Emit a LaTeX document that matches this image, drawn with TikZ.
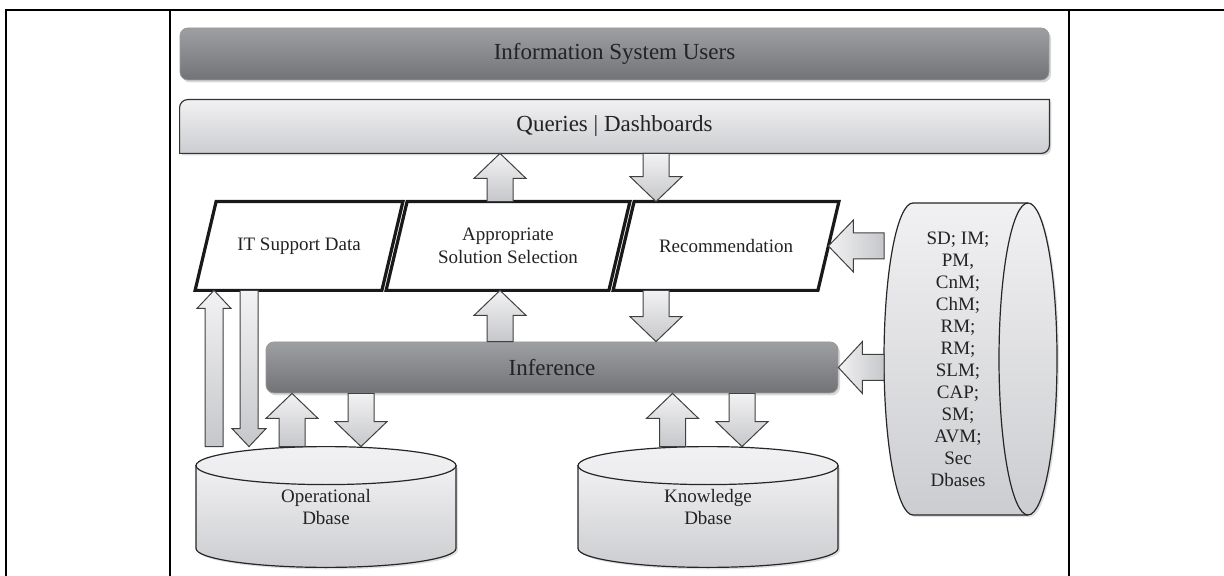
\documentclass[tikz,border=0pt]{standalone}
\usepackage{fontspec}
\setmainfont{Liberation Serif}
\usetikzlibrary{calc,shadows}

\definecolor{darktop}{RGB}{158,159,163}
\definecolor{darkbot}{RGB}{114,115,119}
\definecolor{lighttop}{RGB}{241,241,243}
\definecolor{lightbot}{RGB}{204,205,208}
\definecolor{arrtop}{RGB}{242,242,244}
\definecolor{arrbot}{RGB}{198,199,202}
\definecolor{textgray}{RGB}{35,35,35}

\pgfdeclarelayer{bg}
\pgfsetlayers{bg,main}

\newcommand{\bigtext}{\fontsize{11.5}{13.8}\selectfont}
\newcommand{\smalltext}{\fontsize{9.5}{11.25}\selectfont}

% block arrow: style, tail, tip, shaft half width, head half width, head length
\newcommand{\blockarrow}[6][barrow]{%
  \coordinate (bt) at (#2);
  \coordinate (bh) at (#3);
  \coordinate (bb) at ($(bh)!#6!(bt)$);
  \draw[#1] ($(bt)!#4!90:(bh)$) -- ($(bb)!#4!90:(bh)$) -- ($(bb)!#5!90:(bh)$) -- (bh)
    -- ($(bb)!#5!-90:(bh)$) -- ($(bb)!#4!-90:(bh)$) -- ($(bt)!#4!-90:(bh)$) -- cycle;
}
% slanted box round a node
\newcommand{\parashape}[1]{%
  \draw[para] ([xshift=-5.25pt]#1.south west) -- ([xshift=5.25pt]#1.north west)
    -- ([xshift=5.25pt]#1.north east) -- ([xshift=-5.25pt]#1.south east) -- cycle;
}
% upright database drum round a node
\newcommand{\dbshape}[1]{%
  \draw[cyl] ([shift={(-65pt,-9.5pt)}]#1.north) -- ([shift={(-65pt,9.5pt)}]#1.south)
    arc[start angle=180,end angle=360,x radius=65pt,y radius=9.5pt]
    -- ([shift={(65pt,-9.5pt)}]#1.north) -- cycle;
  \draw[cyltop] ([yshift=-9.5pt]#1.north) ellipse[x radius=65pt,y radius=9.5pt];
}

\begin{document}
\begin{tikzpicture}[x=0.5pt,y=-0.5pt,
  darkbox/.style={rounded corners=4pt, draw=black!40, top color=darktop, bottom color=darkbot,
    drop shadow={shadow xshift=1pt,shadow yshift=-1.2pt,opacity=0.3}, text=textgray, font=\bigtext},
  lightbox/.style={draw=black!80, line width=0.6pt, top color=lighttop, bottom color=lightbot,
    drop shadow={shadow xshift=1pt,shadow yshift=-1pt,opacity=0.3}},
  para/.style={draw=black!90, line width=1.6pt, fill=white},
  paratext/.style={minimum height=44pt, align=center, text=textgray, font=\smalltext},
  dbtext/.style={minimum width=130pt, minimum height=60pt, align=center, text=textgray, font=\smalltext},
  cyl/.style={draw=black!85, line width=0.6pt, top color=lighttop, bottom color=lightbot,
    drop shadow={shadow xshift=1pt,shadow yshift=-1pt,opacity=0.25}},
  cyltop/.style={draw=black!85, line width=0.6pt, top color=lighttop, bottom color=lighttop!85!lightbot},
  barrow/.style={draw=black!75, line width=0.5pt, top color=arrtop, bottom color=arrbot},
  harrow/.style={draw=black!75, line width=0.5pt, left color=arrtop, right color=arrbot}]
\useasboundingbox (0,0) rectangle (1224,576);

% Frame
\draw[line width=1.1pt] (6,576) -- (6,10) -- (1224,10);
\draw[line width=1pt] (170,10) -- (170,576);
\draw[line width=1pt] (1069,10) -- (1069,576);

% Top bars
\node[darkbox, minimum width=434.5pt, minimum height=26pt] (users) at (614.5,54) {Information System Users};
\node[minimum width=434.5pt, minimum height=26.5pt, text=textgray, font=\bigtext] (queries) at (614.5,126.5) {Queries | Dashboards};
\begin{pgfonlayer}{bg}
\draw[lightbox] (queries.south west) -- ([yshift=-4pt]queries.north west) arc[start angle=180,end angle=90,radius=4pt]
  -- (queries.north east) -- ([yshift=4pt]queries.south east) arc[start angle=0,end angle=-90,radius=4pt] -- cycle;
\end{pgfonlayer}

% Middle row
\node[paratext, minimum width=93pt] (p1) at (299,246) {IT Support Data};
\node[paratext, minimum width=111pt] (p2) at (508,246) {Appropriate\\Solution Selection};
\node[paratext, minimum width=102pt] (p3) at (726,246) {Recommendation};
\begin{pgfonlayer}{bg}
\parashape{p1}
\parashape{p2}
\parashape{p3}
\end{pgfonlayer}

% Inference
\node[darkbox, minimum width=286pt, minimum height=25.5pt] (inf) at (552,367.5) {Inference};

% Databases
\node[dbtext] (opdb) at (326,507) {Operational\\Dbase};
\node[dbtext] (kdb) at (708,507) {Knowledge\\Dbase};
\node[align=center, text=textgray, font=\fontsize{9.5}{11}\selectfont] (sd) at (958,359)
  {SD; IM;\\PM,\\CnM;\\ChM;\\RM;\\RM;\\SLM;\\CAP;\\SM;\\AVM;\\Sec\\Dbases};
\coordinate (sdw) at ([xshift=-37pt]sd.center);
\begin{pgfonlayer}{bg}
\dbshape{opdb}
\dbshape{kdb}
\draw[cyl] ([shift={(-22.5pt,78pt)}]sd.center) arc[start angle=90,end angle=270,x radius=14.5pt,y radius=78pt]
  -- ([shift={(35pt,-78pt)}]sd.center) arc[start angle=-90,end angle=90,x radius=14.5pt,y radius=78pt] -- cycle;
\draw[line width=0.6pt, black!85] ([shift={(35pt,78pt)}]sd.center) arc[start angle=90,end angle=270,x radius=14.5pt,y radius=78pt];
\end{pgfonlayer}

% Arrow columns
\coordinate (cA) at (500,0);
\coordinate (cB) at (656,0);
\coordinate (cC) at (214,0);
\coordinate (cD) at (249,0);
\coordinate (cE) at (292,0);
\coordinate (cF) at (361,0);
\coordinate (cG) at (672.5,0);
\coordinate (cH) at (742,0);

% Arrows
\blockarrow{cA |- p2.north}{cA |- queries.south}{6.5pt}{13pt}{12.5pt}
\blockarrow{cB |- queries.south}{cB |- p3.north}{6.5pt}{13pt}{12.5pt}
\blockarrow{cA |- inf.north}{cA |- p2.south}{6.5pt}{13pt}{12.5pt}
\blockarrow{cB |- p3.south}{cB |- inf.north}{6.5pt}{13pt}{12.5pt}
\blockarrow[harrow]{sdw |- p3.east}{p3.east}{6.5pt}{13pt}{12.5pt}
\blockarrow[harrow]{sdw |- inf.east}{inf.east}{6.5pt}{13pt}{12pt}
\blockarrow{cC |- opdb.north}{cC |- p1.south}{4.5pt}{8.5pt}{9pt}
\blockarrow{cD |- p1.south}{cD |- opdb.north}{4.5pt}{8.5pt}{9pt}
\blockarrow{cE |- opdb.north}{cE |- inf.south}{6.5pt}{13pt}{12.5pt}
\blockarrow{cF |- inf.south}{cF |- opdb.north}{6.5pt}{13pt}{12.5pt}
\blockarrow{cG |- kdb.north}{cG |- inf.south}{6.5pt}{13pt}{12.5pt}
\blockarrow{cH |- inf.south}{cH |- kdb.north}{6.5pt}{13pt}{12.5pt}
\end{tikzpicture}
\end{document}
